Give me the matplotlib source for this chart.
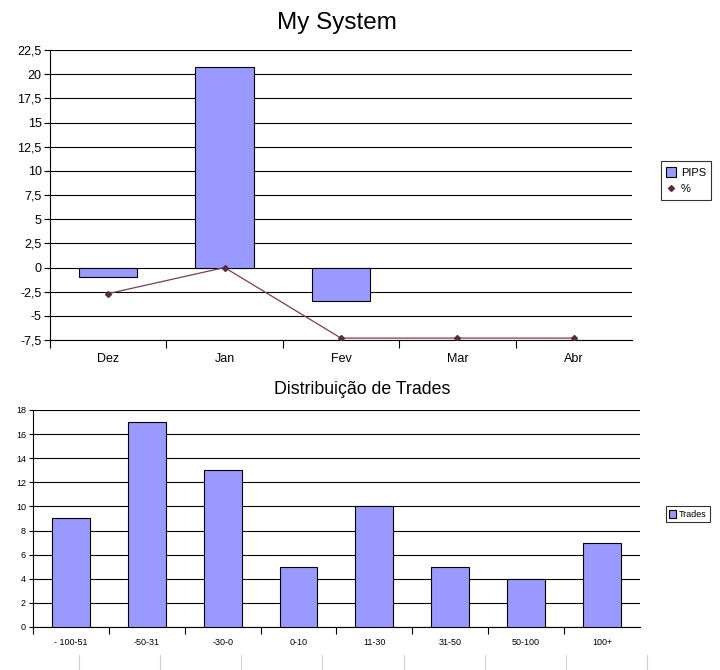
import numpy as np
import matplotlib.pyplot as plt
from matplotlib.lines import Line2D
from matplotlib.patches import Patch

plt.rcParams['font.family'] = ['Liberation Sans', 'DejaVu Sans']

# dados do grafico de cima
meses = ['Dez', 'Jan', 'Fev', 'Mar', 'Abr']
pips = [-1.0, 20.7, -3.5, np.nan, np.nan]
pct = [-2.7, 0.0, -7.3, -7.3, -7.3]
yticks_top = np.arange(-7.5, 22.6, 2.5)

# dados do grafico de baixo
faixas = ['- 100-51', '-50-31', '-30-0', '0-10', '11-30', '31-50', '50-100', '100+']
trades = [9, 17, 13, 5, 10, 5, 4, 7]
yticks_bot = np.arange(0, 19, 2)

bar_color = '#9999ff'
line_color = '#7a3a5e'
mark_color = '#5a2a40'

fig = plt.figure(figsize=(7.2, 6.7), dpi=100)

# ---- My System ----
ax1 = fig.add_axes([0.0694, 0.4925, 0.8083, 0.4328])
x = np.arange(len(meses))
ax1.bar(x, pips, width=0.5, color=bar_color, edgecolor='black', linewidth=0.8, zorder=3)
ax1.plot(x, pct, color=line_color, linewidth=0.9, marker='D', markersize=3,
         markerfacecolor=mark_color, markeredgecolor=mark_color, zorder=4)
ax1.set_xlim(-0.5, len(meses) - 0.5)
ax1.set_ylim(-7.5, 22.5)
ax1.set_yticks(yticks_top)
ax1.set_yticklabels([('%g' % v).replace('.', ',') for v in yticks_top], fontsize=9)
ax1.set_xticks(x)
ax1.set_xticklabels(meses, fontsize=9)
ax1.set_xticks(np.arange(-0.5, len(meses) - 1), minor=True)
ax1.tick_params(axis='x', which='major', length=0, pad=9)
ax1.tick_params(axis='x', which='minor', length=6, width=0.8, direction='out')
ax1.tick_params(axis='y', length=4, width=0.8, direction='out', pad=2)
ax1.yaxis.grid(True, color='black', linewidth=0.8, zorder=0)
ax1.set_axisbelow(True)
for s in ['top', 'right']:
    ax1.spines[s].set_visible(False)
ax1.spines['left'].set_linewidth(0.8)
ax1.spines['bottom'].set_linewidth(0.8)
fig.text(0.468, 0.965, 'My System', ha='center', va='center', fontsize=17.5)
h1 = [Patch(facecolor=bar_color, edgecolor='black', linewidth=0.8),
      Line2D([], [], linestyle='none', marker='D', markersize=3,
             markerfacecolor=mark_color, markeredgecolor=mark_color)]
leg1 = ax1.legend(h1, ['PIPS', '%'], loc='center left', bbox_to_anchor=(1.04, 0.55),
                  fontsize=8, frameon=True, fancybox=False, edgecolor='black',
                  handlelength=0.9, handleheight=1.0, handletextpad=0.4,
                  borderpad=0.5, labelspacing=0.5)
leg1.get_frame().set_linewidth(0.8)

# ---- Distribuicao de Trades ----
ax2 = fig.add_axes([0.0458, 0.0642, 0.843, 0.3239])
x2 = np.arange(len(faixas))
ax2.bar(x2, trades, width=0.5, color=bar_color, edgecolor='black', linewidth=0.8, zorder=3)
ax2.set_xlim(-0.5, len(faixas) - 0.5)
ax2.set_ylim(0, 18)
ax2.set_yticks(yticks_bot)
ax2.set_yticklabels([str(v) for v in yticks_bot], fontsize=6.5)
ax2.set_xticks(x2)
ax2.set_xticklabels(faixas, fontsize=6.5)
ax2.set_xticks(np.arange(-0.5, len(faixas) - 1), minor=True)
ax2.tick_params(axis='x', which='major', length=0, pad=8)
ax2.tick_params(axis='x', which='minor', length=5, width=0.8, direction='out')
ax2.tick_params(axis='y', length=3, width=0.8, direction='out', pad=2)
ax2.yaxis.grid(True, color='black', linewidth=0.8, zorder=0)
ax2.set_axisbelow(True)
for s in ['top', 'right']:
    ax2.spines[s].set_visible(False)
ax2.spines['left'].set_linewidth(0.8)
ax2.spines['bottom'].set_linewidth(0.8)
fig.text(0.503, 0.419, 'Distribuição de Trades', ha='center', va='center', fontsize=12.8)
h2 = [Patch(facecolor=bar_color, edgecolor='black', linewidth=0.8)]
leg2 = ax2.legend(h2, ['Trades'], loc='center left', bbox_to_anchor=(1.035, 0.52),
                  fontsize=6.5, frameon=True, fancybox=False, edgecolor='black',
                  handlelength=0.8, handleheight=1.0, handletextpad=0.3, borderpad=0.35)
leg2.get_frame().set_linewidth(0.8)

# linhas cinzas da planilha embaixo
for xp in [79, 160, 241, 322, 404, 485, 566, 647]:
    fig.add_artist(Line2D([xp / 720, xp / 720], [0, 15 / 670], color='#d0d0d0', linewidth=0.8))

fig.savefig('out.png', dpi=100)
